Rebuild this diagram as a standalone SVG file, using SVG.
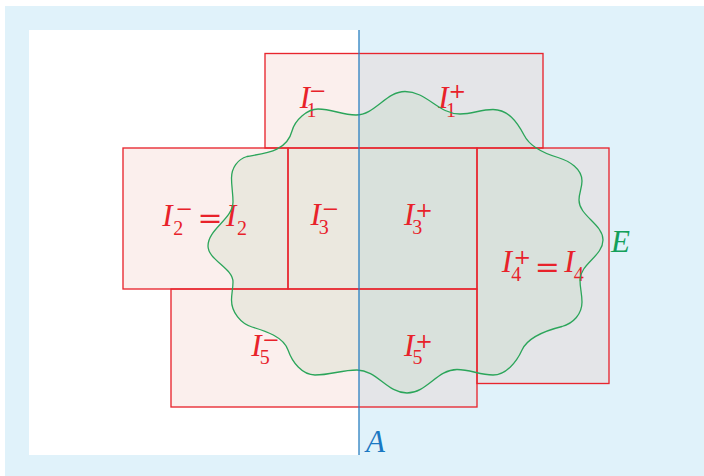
<svg xmlns="http://www.w3.org/2000/svg" width="704" height="476" viewBox="0 0 704 476">
<style>
.box{fill:none;stroke:#e8262e;stroke-width:1.35}
.i{font-family:"Liberation Serif",serif;font-style:italic;font-size:31px;fill:#e8222a;text-anchor:middle}
.d{font-family:"Liberation Serif",serif;font-size:20px;fill:#e8222a;text-anchor:middle}
.o{font-family:"DejaVu Serif",serif;font-size:21px;fill:#e8222a;text-anchor:middle}
.eq{font-family:"DejaVu Serif",serif;font-size:30px;fill:#e8222a;text-anchor:middle}
</style>
<defs>
<linearGradient id="split" gradientUnits="userSpaceOnUse" x1="0" y1="0" x2="704" y2="0">
<stop offset="0.50994" stop-color="#fbefed"/><stop offset="0.50994" stop-color="#e4e5e8"/>
</linearGradient>
<linearGradient id="splitE" gradientUnits="userSpaceOnUse" x1="0" y1="0" x2="704" y2="0">
<stop offset="0.50994" stop-color="#ebe8df"/><stop offset="0.50994" stop-color="#d9e1dc"/>
</linearGradient>
<path id="blob" d="M318,109 C333,109 341,115 356,115 C375,115 386,91.5 405,91.5 C427,91.5 438,114 460,114 C473,114 480,109.5 493,109.5 C508,109.5 517,121.6 524,135 C529.8,146.6 545.5,153.8 558,157.5 C569.5,161 582,169 582,181 C582,188 579,193 579,200 C579,216 603,224 603,240 C603,256 580,264 580,280 C580,288 582,294 582,302 C582,314 573.6,323.1 562,326.5 C547.5,330.1 528.2,336.3 522,350 C516.7,361.8 506,375 493,375 C479,375 471,369.5 457,369.5 C437,369.5 427,393 407,393 C387,393 377,370 357,370 C341,370 331,375 315,375 C302,375 292.3,362.2 288,350 C283.4,336.8 265.4,330.9 252,327 C240.5,323.6 231.5,312 231.5,300 C231.5,294 233,288 233,282 C233,268 208,260 208,246 C208,229 233,219 233,202 C233,193 231.5,187 231.5,178 C231.5,168 237.4,159.3 247,156.5 C263.7,153.2 286.5,152.3 292,131 C294.8,120.3 307,109 318,109 Z"/>
</defs>
<rect x="5" y="6" width="699" height="470" fill="#e0f2fa"/>
<rect x="29" y="30" width="330" height="425" fill="#ffffff"/>
<g id="fills" fill="url(#split)">
<rect x="265" y="53.5" width="278" height="94.5"/>
<rect x="123" y="148" width="165" height="141"/>
<rect x="288" y="148" width="189" height="141"/>
<rect x="477" y="148" width="132" height="235.5"/>
<rect x="171" y="289" width="306" height="118"/>
</g>
<g id="E-fill"><use href="#blob" fill="url(#splitE)"/></g>
<g id="I1">
<rect class="box" x="265" y="53.5" width="278" height="94.5"/>
<text class="i" x="304.8" y="108.3">I</text><text class="o" x="317.8" y="98">−</text><text class="d" x="311.5" y="117">1</text>
<text class="i" x="443.3" y="108.3">I</text><text class="o" x="457.2" y="98">+</text><text class="d" x="451" y="117">1</text>
</g>
<g id="I2">
<rect class="box" x="123" y="148" width="165" height="141"/>
<text class="i" x="167.3" y="226">I</text><text class="o" x="184.4" y="216.3">−</text><text class="d" x="178.3" y="235.3">2</text>
<text class="eq" x="210" y="228">=</text>
<text class="i" x="231.1" y="226">I</text><text class="d" x="242" y="235.3">2</text>
</g>
<g id="I3">
<rect class="box" x="288" y="148" width="189" height="141"/>
<text class="i" x="315.6" y="225">I</text><text class="o" x="330.5" y="216.3">−</text><text class="d" x="323.8" y="234">3</text>
<text class="i" x="409.1" y="225">I</text><text class="o" x="424" y="217">+</text><text class="d" x="417.2" y="234">3</text>
</g>
<g id="I4">
<rect class="box" x="477" y="148" width="132" height="235.5"/>
<text class="i" x="506.8" y="271.7">I</text><text class="o" x="522.2" y="263.7">+</text><text class="d" x="516.2" y="281">4</text>
<text class="eq" x="547.2" y="276.7">=</text>
<text class="i" x="569.4" y="271.7">I</text><text class="d" x="578.7" y="281">4</text>
</g>
<g id="I5">
<rect class="box" x="171" y="289" width="306" height="118"/>
<text class="i" x="256.4" y="355.7">I</text><text class="o" x="271" y="347">−</text><text class="d" x="264.7" y="364">5</text>
<text class="i" x="409.1" y="355.7">I</text><text class="o" x="424" y="347.7">+</text><text class="d" x="417.4" y="364">5</text>
</g>
<g id="E">
<use href="#blob" fill="none" stroke="#2ba55a" stroke-width="1.3"/>
<text x="611" y="252" font-family="Liberation Serif, serif" font-style="italic" font-size="31" fill="#14a05a">E</text>
</g>
<g id="A">
<line x1="359" y1="30" x2="359" y2="455" stroke="#2a7fc0" stroke-width="1.3"/>
<text x="366" y="452" font-family="Liberation Serif, serif" font-style="italic" font-size="31" fill="#1a78c2">A</text>
</g>
</svg>
